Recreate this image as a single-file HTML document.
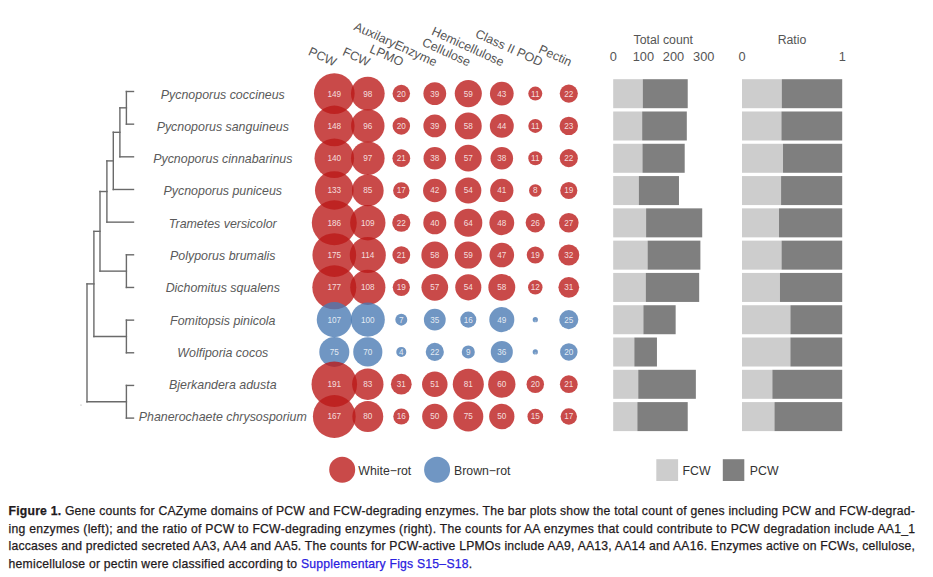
<!DOCTYPE html>
<html><head><meta charset="utf-8"><style>
html,body{margin:0;padding:0;background:#fff;width:933px;height:577px;overflow:hidden;}
svg{position:absolute;left:0;top:0;}
.cl{position:absolute;left:8.6px;width:906.5px;font-family:"Liberation Sans",sans-serif;font-size:12.2px;line-height:16px;color:#1f1a1c;text-align:justify;white-space:nowrap;-webkit-text-stroke:0.25px #1f1a1c;}
.lk{-webkit-text-stroke:0.25px #2a20e0;}
.cl b{font-weight:bold;}
.lk{color:#2a20e0;}
</style></head><body>
<svg width="933" height="577" viewBox="0 0 933 577">
<g stroke="#6a6a6a" stroke-width="1.4" stroke-linecap="square" fill="none">
<line x1="126.40" y1="91.50" x2="126.40" y2="124.16"/>
<line x1="126.4" y1="91.50" x2="133.5" y2="91.50"/>
<line x1="126.4" y1="124.16" x2="133.5" y2="124.16"/>
<line x1="119.90" y1="107.83" x2="119.90" y2="156.82"/>
<line x1="119.9" y1="107.83" x2="126.4" y2="107.83"/>
<line x1="119.9" y1="156.82" x2="133.5" y2="156.82"/>
<line x1="113.30" y1="132.32" x2="113.30" y2="189.48"/>
<line x1="113.3" y1="132.32" x2="119.9" y2="132.32"/>
<line x1="113.3" y1="189.48" x2="133.5" y2="189.48"/>
<line x1="106.90" y1="160.90" x2="106.90" y2="222.14"/>
<line x1="106.9" y1="160.90" x2="113.3" y2="160.90"/>
<line x1="106.9" y1="222.14" x2="133.5" y2="222.14"/>
<line x1="126.40" y1="254.80" x2="126.40" y2="287.46"/>
<line x1="126.4" y1="254.80" x2="133.5" y2="254.80"/>
<line x1="126.4" y1="287.46" x2="133.5" y2="287.46"/>
<line x1="100.00" y1="191.52" x2="100.00" y2="271.13"/>
<line x1="100.0" y1="191.52" x2="106.9" y2="191.52"/>
<line x1="100.0" y1="271.13" x2="126.4" y2="271.13"/>
<line x1="126.40" y1="320.12" x2="126.40" y2="352.78"/>
<line x1="126.4" y1="320.12" x2="133.5" y2="320.12"/>
<line x1="126.4" y1="352.78" x2="133.5" y2="352.78"/>
<line x1="93.90" y1="231.33" x2="93.90" y2="336.45"/>
<line x1="93.9" y1="231.33" x2="100.0" y2="231.33"/>
<line x1="93.9" y1="336.45" x2="126.4" y2="336.45"/>
<line x1="126.40" y1="385.44" x2="126.40" y2="418.10"/>
<line x1="126.4" y1="385.44" x2="133.5" y2="385.44"/>
<line x1="126.4" y1="418.10" x2="133.5" y2="418.10"/>
<line x1="87.00" y1="283.89" x2="87.00" y2="401.77"/>
<line x1="87.0" y1="283.89" x2="93.9" y2="283.89"/>
<line x1="87.0" y1="401.77" x2="126.4" y2="401.77"/>
</g>
<circle cx="81" cy="405" r="0.6" fill="#999"/>
<g font-family="Liberation Sans" font-style="italic" font-size="12.4" fill="#5a5a5a" text-anchor="middle">
<text x="222.8" y="98.50">Pycnoporus coccineus</text>
<text x="222.8" y="130.79">Pycnoporus sanguineus</text>
<text x="222.8" y="163.08">Pycnoporus cinnabarinus</text>
<text x="222.8" y="195.37">Pycnoporus puniceus</text>
<text x="222.8" y="227.66">Trametes versicolor</text>
<text x="222.8" y="259.95">Polyporus brumalis</text>
<text x="222.8" y="292.24">Dichomitus squalens</text>
<text x="222.8" y="324.53">Fomitopsis pinicola</text>
<text x="222.8" y="356.82">Wolfiporia cocos</text>
<text x="222.8" y="389.11">Bjerkandera adusta</text>
<text x="222.8" y="421.40">Phanerochaete chrysosporium</text>
</g>
<g font-family="Liberation Sans" font-size="12.5" fill="#555" text-anchor="end">
<text transform="translate(334.10,66.6) rotate(24.5)">PCW</text>
<text transform="translate(367.60,66.6) rotate(24.5)">FCW</text>
<text transform="translate(401.10,66.6) rotate(24.5)">LPMO</text>
<text transform="translate(434.60,66.6) rotate(24.5)">AuxilaryEnzyme</text>
<text transform="translate(468.10,66.6) rotate(24.5)">Cellulose</text>
<text transform="translate(501.60,66.6) rotate(24.5)">Hemicellulose</text>
<text transform="translate(540.30,66.6) rotate(24.5)">Class II POD</text>
<text transform="translate(569.40,66.6) rotate(24.5)">Pectin</text>
</g>
<circle cx="334.30" cy="93.60" r="20.34" fill="rgba(186,26,24,0.79)"/>
<circle cx="367.80" cy="93.60" r="16.88" fill="rgba(186,26,24,0.79)"/>
<circle cx="401.30" cy="93.60" r="8.74" fill="rgba(186,26,24,0.79)"/>
<circle cx="434.80" cy="93.60" r="11.40" fill="rgba(186,26,24,0.79)"/>
<circle cx="468.30" cy="93.60" r="13.55" fill="rgba(186,26,24,0.79)"/>
<circle cx="501.80" cy="93.60" r="11.87" fill="rgba(186,26,24,0.79)"/>
<circle cx="535.30" cy="93.60" r="7.00" fill="rgba(186,26,24,0.79)"/>
<circle cx="568.80" cy="93.60" r="9.07" fill="rgba(186,26,24,0.79)"/>
<text x="334.30" y="96.50" font-family="Liberation Sans" font-size="8.2" fill="rgba(255,255,255,0.82)" text-anchor="middle">149</text>
<text x="367.80" y="96.50" font-family="Liberation Sans" font-size="8.2" fill="rgba(255,255,255,0.82)" text-anchor="middle">98</text>
<text x="401.30" y="96.50" font-family="Liberation Sans" font-size="8.2" fill="rgba(255,255,255,0.82)" text-anchor="middle">20</text>
<text x="434.80" y="96.50" font-family="Liberation Sans" font-size="8.2" fill="rgba(255,255,255,0.82)" text-anchor="middle">39</text>
<text x="468.30" y="96.50" font-family="Liberation Sans" font-size="8.2" fill="rgba(255,255,255,0.82)" text-anchor="middle">59</text>
<text x="501.80" y="96.50" font-family="Liberation Sans" font-size="8.2" fill="rgba(255,255,255,0.82)" text-anchor="middle">43</text>
<text x="535.30" y="96.50" font-family="Liberation Sans" font-size="8.2" fill="rgba(255,255,255,0.82)" text-anchor="middle">11</text>
<text x="568.80" y="96.50" font-family="Liberation Sans" font-size="8.2" fill="rgba(255,255,255,0.82)" text-anchor="middle">22</text>
<circle cx="334.30" cy="125.89" r="20.28" fill="rgba(186,26,24,0.79)"/>
<circle cx="367.80" cy="125.89" r="16.73" fill="rgba(186,26,24,0.79)"/>
<circle cx="401.30" cy="125.89" r="8.74" fill="rgba(186,26,24,0.79)"/>
<circle cx="434.80" cy="125.89" r="11.40" fill="rgba(186,26,24,0.79)"/>
<circle cx="468.30" cy="125.89" r="13.45" fill="rgba(186,26,24,0.79)"/>
<circle cx="501.80" cy="125.89" r="11.98" fill="rgba(186,26,24,0.79)"/>
<circle cx="535.30" cy="125.89" r="7.00" fill="rgba(186,26,24,0.79)"/>
<circle cx="568.80" cy="125.89" r="9.22" fill="rgba(186,26,24,0.79)"/>
<text x="334.30" y="128.79" font-family="Liberation Sans" font-size="8.2" fill="rgba(255,255,255,0.82)" text-anchor="middle">148</text>
<text x="367.80" y="128.79" font-family="Liberation Sans" font-size="8.2" fill="rgba(255,255,255,0.82)" text-anchor="middle">96</text>
<text x="401.30" y="128.79" font-family="Liberation Sans" font-size="8.2" fill="rgba(255,255,255,0.82)" text-anchor="middle">20</text>
<text x="434.80" y="128.79" font-family="Liberation Sans" font-size="8.2" fill="rgba(255,255,255,0.82)" text-anchor="middle">39</text>
<text x="468.30" y="128.79" font-family="Liberation Sans" font-size="8.2" fill="rgba(255,255,255,0.82)" text-anchor="middle">58</text>
<text x="501.80" y="128.79" font-family="Liberation Sans" font-size="8.2" fill="rgba(255,255,255,0.82)" text-anchor="middle">44</text>
<text x="535.30" y="128.79" font-family="Liberation Sans" font-size="8.2" fill="rgba(255,255,255,0.82)" text-anchor="middle">11</text>
<text x="568.80" y="128.79" font-family="Liberation Sans" font-size="8.2" fill="rgba(255,255,255,0.82)" text-anchor="middle">23</text>
<circle cx="334.30" cy="158.18" r="19.78" fill="rgba(186,26,24,0.79)"/>
<circle cx="367.80" cy="158.18" r="16.80" fill="rgba(186,26,24,0.79)"/>
<circle cx="401.30" cy="158.18" r="8.90" fill="rgba(186,26,24,0.79)"/>
<circle cx="434.80" cy="158.18" r="11.28" fill="rgba(186,26,24,0.79)"/>
<circle cx="468.30" cy="158.18" r="13.35" fill="rgba(186,26,24,0.79)"/>
<circle cx="501.80" cy="158.18" r="11.28" fill="rgba(186,26,24,0.79)"/>
<circle cx="535.30" cy="158.18" r="7.00" fill="rgba(186,26,24,0.79)"/>
<circle cx="568.80" cy="158.18" r="9.07" fill="rgba(186,26,24,0.79)"/>
<text x="334.30" y="161.08" font-family="Liberation Sans" font-size="8.2" fill="rgba(255,255,255,0.82)" text-anchor="middle">140</text>
<text x="367.80" y="161.08" font-family="Liberation Sans" font-size="8.2" fill="rgba(255,255,255,0.82)" text-anchor="middle">97</text>
<text x="401.30" y="161.08" font-family="Liberation Sans" font-size="8.2" fill="rgba(255,255,255,0.82)" text-anchor="middle">21</text>
<text x="434.80" y="161.08" font-family="Liberation Sans" font-size="8.2" fill="rgba(255,255,255,0.82)" text-anchor="middle">38</text>
<text x="468.30" y="161.08" font-family="Liberation Sans" font-size="8.2" fill="rgba(255,255,255,0.82)" text-anchor="middle">57</text>
<text x="501.80" y="161.08" font-family="Liberation Sans" font-size="8.2" fill="rgba(255,255,255,0.82)" text-anchor="middle">38</text>
<text x="535.30" y="161.08" font-family="Liberation Sans" font-size="8.2" fill="rgba(255,255,255,0.82)" text-anchor="middle">11</text>
<text x="568.80" y="161.08" font-family="Liberation Sans" font-size="8.2" fill="rgba(255,255,255,0.82)" text-anchor="middle">22</text>
<circle cx="334.30" cy="190.47" r="19.33" fill="rgba(186,26,24,0.79)"/>
<circle cx="367.80" cy="190.47" r="15.86" fill="rgba(186,26,24,0.79)"/>
<circle cx="401.30" cy="190.47" r="8.21" fill="rgba(186,26,24,0.79)"/>
<circle cx="434.80" cy="190.47" r="11.75" fill="rgba(186,26,24,0.79)"/>
<circle cx="468.30" cy="190.47" r="13.05" fill="rgba(186,26,24,0.79)"/>
<circle cx="501.80" cy="190.47" r="11.63" fill="rgba(186,26,24,0.79)"/>
<circle cx="535.30" cy="190.47" r="6.27" fill="rgba(186,26,24,0.79)"/>
<circle cx="568.80" cy="190.47" r="8.57" fill="rgba(186,26,24,0.79)"/>
<text x="334.30" y="193.37" font-family="Liberation Sans" font-size="8.2" fill="rgba(255,255,255,0.82)" text-anchor="middle">133</text>
<text x="367.80" y="193.37" font-family="Liberation Sans" font-size="8.2" fill="rgba(255,255,255,0.82)" text-anchor="middle">85</text>
<text x="401.30" y="193.37" font-family="Liberation Sans" font-size="8.2" fill="rgba(255,255,255,0.82)" text-anchor="middle">17</text>
<text x="434.80" y="193.37" font-family="Liberation Sans" font-size="8.2" fill="rgba(255,255,255,0.82)" text-anchor="middle">42</text>
<text x="468.30" y="193.37" font-family="Liberation Sans" font-size="8.2" fill="rgba(255,255,255,0.82)" text-anchor="middle">54</text>
<text x="501.80" y="193.37" font-family="Liberation Sans" font-size="8.2" fill="rgba(255,255,255,0.82)" text-anchor="middle">41</text>
<text x="535.30" y="193.37" font-family="Liberation Sans" font-size="8.2" fill="rgba(255,255,255,0.82)" text-anchor="middle">8</text>
<text x="568.80" y="193.37" font-family="Liberation Sans" font-size="8.2" fill="rgba(255,255,255,0.82)" text-anchor="middle">19</text>
<circle cx="334.30" cy="222.76" r="22.49" fill="rgba(186,26,24,0.79)"/>
<circle cx="367.80" cy="222.76" r="17.69" fill="rgba(186,26,24,0.79)"/>
<circle cx="401.30" cy="222.76" r="9.07" fill="rgba(186,26,24,0.79)"/>
<circle cx="434.80" cy="222.76" r="11.52" fill="rgba(186,26,24,0.79)"/>
<circle cx="468.30" cy="222.76" r="14.03" fill="rgba(186,26,24,0.79)"/>
<circle cx="501.80" cy="222.76" r="12.42" fill="rgba(186,26,24,0.79)"/>
<circle cx="535.30" cy="222.76" r="9.68" fill="rgba(186,26,24,0.79)"/>
<circle cx="568.80" cy="222.76" r="9.82" fill="rgba(186,26,24,0.79)"/>
<text x="334.30" y="225.66" font-family="Liberation Sans" font-size="8.2" fill="rgba(255,255,255,0.82)" text-anchor="middle">186</text>
<text x="367.80" y="225.66" font-family="Liberation Sans" font-size="8.2" fill="rgba(255,255,255,0.82)" text-anchor="middle">109</text>
<text x="401.30" y="225.66" font-family="Liberation Sans" font-size="8.2" fill="rgba(255,255,255,0.82)" text-anchor="middle">22</text>
<text x="434.80" y="225.66" font-family="Liberation Sans" font-size="8.2" fill="rgba(255,255,255,0.82)" text-anchor="middle">40</text>
<text x="468.30" y="225.66" font-family="Liberation Sans" font-size="8.2" fill="rgba(255,255,255,0.82)" text-anchor="middle">64</text>
<text x="501.80" y="225.66" font-family="Liberation Sans" font-size="8.2" fill="rgba(255,255,255,0.82)" text-anchor="middle">48</text>
<text x="535.30" y="225.66" font-family="Liberation Sans" font-size="8.2" fill="rgba(255,255,255,0.82)" text-anchor="middle">26</text>
<text x="568.80" y="225.66" font-family="Liberation Sans" font-size="8.2" fill="rgba(255,255,255,0.82)" text-anchor="middle">27</text>
<circle cx="334.30" cy="255.05" r="21.87" fill="rgba(186,26,24,0.79)"/>
<circle cx="367.80" cy="255.05" r="18.05" fill="rgba(186,26,24,0.79)"/>
<circle cx="401.30" cy="255.05" r="8.90" fill="rgba(186,26,24,0.79)"/>
<circle cx="434.80" cy="255.05" r="13.45" fill="rgba(186,26,24,0.79)"/>
<circle cx="468.30" cy="255.05" r="13.55" fill="rgba(186,26,24,0.79)"/>
<circle cx="501.80" cy="255.05" r="12.31" fill="rgba(186,26,24,0.79)"/>
<circle cx="535.30" cy="255.05" r="8.57" fill="rgba(186,26,24,0.79)"/>
<circle cx="568.80" cy="255.05" r="10.52" fill="rgba(186,26,24,0.79)"/>
<text x="334.30" y="257.95" font-family="Liberation Sans" font-size="8.2" fill="rgba(255,255,255,0.82)" text-anchor="middle">175</text>
<text x="367.80" y="257.95" font-family="Liberation Sans" font-size="8.2" fill="rgba(255,255,255,0.82)" text-anchor="middle">114</text>
<text x="401.30" y="257.95" font-family="Liberation Sans" font-size="8.2" fill="rgba(255,255,255,0.82)" text-anchor="middle">21</text>
<text x="434.80" y="257.95" font-family="Liberation Sans" font-size="8.2" fill="rgba(255,255,255,0.82)" text-anchor="middle">58</text>
<text x="468.30" y="257.95" font-family="Liberation Sans" font-size="8.2" fill="rgba(255,255,255,0.82)" text-anchor="middle">59</text>
<text x="501.80" y="257.95" font-family="Liberation Sans" font-size="8.2" fill="rgba(255,255,255,0.82)" text-anchor="middle">47</text>
<text x="535.30" y="257.95" font-family="Liberation Sans" font-size="8.2" fill="rgba(255,255,255,0.82)" text-anchor="middle">19</text>
<text x="568.80" y="257.95" font-family="Liberation Sans" font-size="8.2" fill="rgba(255,255,255,0.82)" text-anchor="middle">32</text>
<circle cx="334.30" cy="287.34" r="21.99" fill="rgba(186,26,24,0.79)"/>
<circle cx="367.80" cy="287.34" r="17.62" fill="rgba(186,26,24,0.79)"/>
<circle cx="401.30" cy="287.34" r="8.57" fill="rgba(186,26,24,0.79)"/>
<circle cx="434.80" cy="287.34" r="13.35" fill="rgba(186,26,24,0.79)"/>
<circle cx="468.30" cy="287.34" r="13.05" fill="rgba(186,26,24,0.79)"/>
<circle cx="501.80" cy="287.34" r="13.45" fill="rgba(186,26,24,0.79)"/>
<circle cx="535.30" cy="287.34" r="7.23" fill="rgba(186,26,24,0.79)"/>
<circle cx="568.80" cy="287.34" r="10.38" fill="rgba(186,26,24,0.79)"/>
<text x="334.30" y="290.24" font-family="Liberation Sans" font-size="8.2" fill="rgba(255,255,255,0.82)" text-anchor="middle">177</text>
<text x="367.80" y="290.24" font-family="Liberation Sans" font-size="8.2" fill="rgba(255,255,255,0.82)" text-anchor="middle">108</text>
<text x="401.30" y="290.24" font-family="Liberation Sans" font-size="8.2" fill="rgba(255,255,255,0.82)" text-anchor="middle">19</text>
<text x="434.80" y="290.24" font-family="Liberation Sans" font-size="8.2" fill="rgba(255,255,255,0.82)" text-anchor="middle">57</text>
<text x="468.30" y="290.24" font-family="Liberation Sans" font-size="8.2" fill="rgba(255,255,255,0.82)" text-anchor="middle">54</text>
<text x="501.80" y="290.24" font-family="Liberation Sans" font-size="8.2" fill="rgba(255,255,255,0.82)" text-anchor="middle">58</text>
<text x="535.30" y="290.24" font-family="Liberation Sans" font-size="8.2" fill="rgba(255,255,255,0.82)" text-anchor="middle">12</text>
<text x="568.80" y="290.24" font-family="Liberation Sans" font-size="8.2" fill="rgba(255,255,255,0.82)" text-anchor="middle">31</text>
<circle cx="334.30" cy="319.63" r="17.55" fill="rgba(74,122,179,0.79)"/>
<circle cx="367.80" cy="319.63" r="17.03" fill="rgba(74,122,179,0.79)"/>
<circle cx="401.30" cy="319.63" r="6.00" fill="rgba(74,122,179,0.79)"/>
<circle cx="434.80" cy="319.63" r="10.90" fill="rgba(74,122,179,0.79)"/>
<circle cx="468.30" cy="319.63" r="8.03" fill="rgba(74,122,179,0.79)"/>
<circle cx="501.80" cy="319.63" r="12.53" fill="rgba(74,122,179,0.79)"/>
<circle cx="535.30" cy="319.63" r="2.60" fill="rgba(74,122,179,0.79)"/>
<circle cx="568.80" cy="319.63" r="9.53" fill="rgba(74,122,179,0.79)"/>
<text x="334.30" y="322.53" font-family="Liberation Sans" font-size="8.2" fill="rgba(255,255,255,0.82)" text-anchor="middle">107</text>
<text x="367.80" y="322.53" font-family="Liberation Sans" font-size="8.2" fill="rgba(255,255,255,0.82)" text-anchor="middle">100</text>
<text x="401.30" y="322.53" font-family="Liberation Sans" font-size="8.2" fill="rgba(255,255,255,0.82)" text-anchor="middle">7</text>
<text x="434.80" y="322.53" font-family="Liberation Sans" font-size="8.2" fill="rgba(255,255,255,0.82)" text-anchor="middle">35</text>
<text x="468.30" y="322.53" font-family="Liberation Sans" font-size="8.2" fill="rgba(255,255,255,0.82)" text-anchor="middle">16</text>
<text x="501.80" y="322.53" font-family="Liberation Sans" font-size="8.2" fill="rgba(255,255,255,0.82)" text-anchor="middle">49</text>
<text x="535.30" y="322.53" font-family="Liberation Sans" font-size="3" fill="rgba(255,255,255,0.82)" text-anchor="middle">0</text>
<text x="568.80" y="322.53" font-family="Liberation Sans" font-size="8.2" fill="rgba(255,255,255,0.82)" text-anchor="middle">25</text>
<circle cx="334.30" cy="351.92" r="15.02" fill="rgba(74,122,179,0.79)"/>
<circle cx="367.80" cy="351.92" r="14.58" fill="rgba(74,122,179,0.79)"/>
<circle cx="401.30" cy="351.92" r="5.03" fill="rgba(74,122,179,0.79)"/>
<circle cx="434.80" cy="351.92" r="9.07" fill="rgba(74,122,179,0.79)"/>
<circle cx="468.30" cy="351.92" r="6.53" fill="rgba(74,122,179,0.79)"/>
<circle cx="501.80" cy="351.92" r="11.03" fill="rgba(74,122,179,0.79)"/>
<circle cx="535.30" cy="351.92" r="2.60" fill="rgba(74,122,179,0.79)"/>
<circle cx="568.80" cy="351.92" r="8.74" fill="rgba(74,122,179,0.79)"/>
<text x="334.30" y="354.82" font-family="Liberation Sans" font-size="8.2" fill="rgba(255,255,255,0.82)" text-anchor="middle">75</text>
<text x="367.80" y="354.82" font-family="Liberation Sans" font-size="8.2" fill="rgba(255,255,255,0.82)" text-anchor="middle">70</text>
<text x="401.30" y="354.82" font-family="Liberation Sans" font-size="8.2" fill="rgba(255,255,255,0.82)" text-anchor="middle">4</text>
<text x="434.80" y="354.82" font-family="Liberation Sans" font-size="8.2" fill="rgba(255,255,255,0.82)" text-anchor="middle">22</text>
<text x="468.30" y="354.82" font-family="Liberation Sans" font-size="8.2" fill="rgba(255,255,255,0.82)" text-anchor="middle">9</text>
<text x="501.80" y="354.82" font-family="Liberation Sans" font-size="8.2" fill="rgba(255,255,255,0.82)" text-anchor="middle">36</text>
<text x="535.30" y="354.82" font-family="Liberation Sans" font-size="3" fill="rgba(255,255,255,0.82)" text-anchor="middle">0</text>
<text x="568.80" y="354.82" font-family="Liberation Sans" font-size="8.2" fill="rgba(255,255,255,0.82)" text-anchor="middle">20</text>
<circle cx="334.30" cy="384.21" r="22.76" fill="rgba(186,26,24,0.79)"/>
<circle cx="367.80" cy="384.21" r="15.70" fill="rgba(186,26,24,0.79)"/>
<circle cx="401.30" cy="384.21" r="10.38" fill="rgba(186,26,24,0.79)"/>
<circle cx="434.80" cy="384.21" r="12.74" fill="rgba(186,26,24,0.79)"/>
<circle cx="468.30" cy="384.21" r="15.53" fill="rgba(186,26,24,0.79)"/>
<circle cx="501.80" cy="384.21" r="13.65" fill="rgba(186,26,24,0.79)"/>
<circle cx="535.30" cy="384.21" r="8.74" fill="rgba(186,26,24,0.79)"/>
<circle cx="568.80" cy="384.21" r="8.90" fill="rgba(186,26,24,0.79)"/>
<text x="334.30" y="387.11" font-family="Liberation Sans" font-size="8.2" fill="rgba(255,255,255,0.82)" text-anchor="middle">191</text>
<text x="367.80" y="387.11" font-family="Liberation Sans" font-size="8.2" fill="rgba(255,255,255,0.82)" text-anchor="middle">83</text>
<text x="401.30" y="387.11" font-family="Liberation Sans" font-size="8.2" fill="rgba(255,255,255,0.82)" text-anchor="middle">31</text>
<text x="434.80" y="387.11" font-family="Liberation Sans" font-size="8.2" fill="rgba(255,255,255,0.82)" text-anchor="middle">51</text>
<text x="468.30" y="387.11" font-family="Liberation Sans" font-size="8.2" fill="rgba(255,255,255,0.82)" text-anchor="middle">81</text>
<text x="501.80" y="387.11" font-family="Liberation Sans" font-size="8.2" fill="rgba(255,255,255,0.82)" text-anchor="middle">60</text>
<text x="535.30" y="387.11" font-family="Liberation Sans" font-size="8.2" fill="rgba(255,255,255,0.82)" text-anchor="middle">20</text>
<text x="568.80" y="387.11" font-family="Liberation Sans" font-size="8.2" fill="rgba(255,255,255,0.82)" text-anchor="middle">21</text>
<circle cx="334.30" cy="416.50" r="21.41" fill="rgba(186,26,24,0.79)"/>
<circle cx="367.80" cy="416.50" r="15.45" fill="rgba(186,26,24,0.79)"/>
<circle cx="401.30" cy="416.50" r="8.03" fill="rgba(186,26,24,0.79)"/>
<circle cx="434.80" cy="416.50" r="12.64" fill="rgba(186,26,24,0.79)"/>
<circle cx="468.30" cy="416.50" r="15.02" fill="rgba(186,26,24,0.79)"/>
<circle cx="501.80" cy="416.50" r="12.64" fill="rgba(186,26,24,0.79)"/>
<circle cx="535.30" cy="416.50" r="7.84" fill="rgba(186,26,24,0.79)"/>
<circle cx="568.80" cy="416.50" r="8.21" fill="rgba(186,26,24,0.79)"/>
<text x="334.30" y="419.40" font-family="Liberation Sans" font-size="8.2" fill="rgba(255,255,255,0.82)" text-anchor="middle">167</text>
<text x="367.80" y="419.40" font-family="Liberation Sans" font-size="8.2" fill="rgba(255,255,255,0.82)" text-anchor="middle">80</text>
<text x="401.30" y="419.40" font-family="Liberation Sans" font-size="8.2" fill="rgba(255,255,255,0.82)" text-anchor="middle">16</text>
<text x="434.80" y="419.40" font-family="Liberation Sans" font-size="8.2" fill="rgba(255,255,255,0.82)" text-anchor="middle">50</text>
<text x="468.30" y="419.40" font-family="Liberation Sans" font-size="8.2" fill="rgba(255,255,255,0.82)" text-anchor="middle">75</text>
<text x="501.80" y="419.40" font-family="Liberation Sans" font-size="8.2" fill="rgba(255,255,255,0.82)" text-anchor="middle">50</text>
<text x="535.30" y="419.40" font-family="Liberation Sans" font-size="8.2" fill="rgba(255,255,255,0.82)" text-anchor="middle">15</text>
<text x="568.80" y="419.40" font-family="Liberation Sans" font-size="8.2" fill="rgba(255,255,255,0.82)" text-anchor="middle">17</text>
<g font-family="Liberation Sans" font-size="12.3" fill="#555" text-anchor="middle">
<text x="663.3" y="44.3">Total count</text>
<text x="613.20" y="61" font-size="12.8">0</text>
<text x="643.37" y="61" font-size="12.8">100</text>
<text x="673.54" y="61" font-size="12.8">200</text>
<text x="703.71" y="61" font-size="12.8">300</text>
<text x="792" y="44.3">Ratio</text>
<text x="742.00" y="61" font-size="12.8">0</text><text x="842.20" y="61" font-size="12.8">1</text>
</g>
<rect x="613.2" y="79.20" width="29.57" height="29.0" fill="#cdcdcd"/>
<rect x="642.77" y="79.20" width="44.95" height="29.0" fill="#7f7f7f"/>
<rect x="742.0" y="79.20" width="39.76" height="29.0" fill="#cdcdcd"/>
<rect x="781.76" y="79.20" width="60.44" height="29.0" fill="#7f7f7f"/>
<rect x="613.2" y="111.49" width="28.96" height="29.0" fill="#cdcdcd"/>
<rect x="642.16" y="111.49" width="44.65" height="29.0" fill="#7f7f7f"/>
<rect x="742.0" y="111.49" width="39.42" height="29.0" fill="#cdcdcd"/>
<rect x="781.42" y="111.49" width="60.78" height="29.0" fill="#7f7f7f"/>
<rect x="613.2" y="143.78" width="29.26" height="29.0" fill="#cdcdcd"/>
<rect x="642.46" y="143.78" width="42.24" height="29.0" fill="#7f7f7f"/>
<rect x="742.0" y="143.78" width="41.01" height="29.0" fill="#cdcdcd"/>
<rect x="783.01" y="143.78" width="59.19" height="29.0" fill="#7f7f7f"/>
<rect x="613.2" y="176.07" width="25.64" height="29.0" fill="#cdcdcd"/>
<rect x="638.84" y="176.07" width="40.13" height="29.0" fill="#7f7f7f"/>
<rect x="742.0" y="176.07" width="39.07" height="29.0" fill="#cdcdcd"/>
<rect x="781.07" y="176.07" width="61.13" height="29.0" fill="#7f7f7f"/>
<rect x="613.2" y="208.36" width="32.89" height="29.0" fill="#cdcdcd"/>
<rect x="646.09" y="208.36" width="56.12" height="29.0" fill="#7f7f7f"/>
<rect x="742.0" y="208.36" width="37.02" height="29.0" fill="#cdcdcd"/>
<rect x="779.02" y="208.36" width="63.18" height="29.0" fill="#7f7f7f"/>
<rect x="613.2" y="240.65" width="34.39" height="29.0" fill="#cdcdcd"/>
<rect x="647.59" y="240.65" width="52.80" height="29.0" fill="#7f7f7f"/>
<rect x="742.0" y="240.65" width="39.53" height="29.0" fill="#cdcdcd"/>
<rect x="781.53" y="240.65" width="60.67" height="29.0" fill="#7f7f7f"/>
<rect x="613.2" y="272.94" width="32.58" height="29.0" fill="#cdcdcd"/>
<rect x="645.78" y="272.94" width="53.40" height="29.0" fill="#7f7f7f"/>
<rect x="742.0" y="272.94" width="37.97" height="29.0" fill="#cdcdcd"/>
<rect x="779.97" y="272.94" width="62.23" height="29.0" fill="#7f7f7f"/>
<rect x="613.2" y="305.23" width="30.17" height="29.0" fill="#cdcdcd"/>
<rect x="643.37" y="305.23" width="32.28" height="29.0" fill="#7f7f7f"/>
<rect x="742.0" y="305.23" width="48.41" height="29.0" fill="#cdcdcd"/>
<rect x="790.41" y="305.23" width="51.79" height="29.0" fill="#7f7f7f"/>
<rect x="613.2" y="337.52" width="21.12" height="29.0" fill="#cdcdcd"/>
<rect x="634.32" y="337.52" width="22.63" height="29.0" fill="#7f7f7f"/>
<rect x="742.0" y="337.52" width="48.37" height="29.0" fill="#cdcdcd"/>
<rect x="790.37" y="337.52" width="51.83" height="29.0" fill="#7f7f7f"/>
<rect x="613.2" y="369.81" width="25.04" height="29.0" fill="#cdcdcd"/>
<rect x="638.24" y="369.81" width="57.62" height="29.0" fill="#7f7f7f"/>
<rect x="742.0" y="369.81" width="30.35" height="29.0" fill="#cdcdcd"/>
<rect x="772.35" y="369.81" width="69.85" height="29.0" fill="#7f7f7f"/>
<rect x="613.2" y="402.10" width="24.14" height="29.0" fill="#cdcdcd"/>
<rect x="637.34" y="402.10" width="50.38" height="29.0" fill="#7f7f7f"/>
<rect x="742.0" y="402.10" width="32.45" height="29.0" fill="#cdcdcd"/>
<rect x="774.45" y="402.10" width="67.75" height="29.0" fill="#7f7f7f"/>
<circle cx="342.2" cy="469.8" r="13" fill="rgba(186,26,24,0.79)"/>
<circle cx="437.1" cy="469.8" r="13" fill="rgba(74,122,179,0.79)"/>
<g font-family="Liberation Sans" font-size="12.3" fill="#333">
<text x="358.3" y="474.8">White−rot</text>
<text x="454" y="474.8">Brown−rot</text>
<text x="682.5" y="474.8">FCW</text>
<text x="749.8" y="474.8">PCW</text>
</g>
<rect x="656.3" y="459.2" width="21.8" height="21.8" fill="#cdcdcd"/>
<rect x="722.8" y="459.2" width="21.5" height="21.8" fill="#7f7f7f"/>
</svg>
<div class="cl" style="top:503.10px;text-align-last:justify;letter-spacing:0.205px"><b>Figure 1.</b> Gene counts for CAZyme domains of PCW and FCW-degrading enzymes. The bar plots show the total count of genes including PCW and FCW-degrad-</div><div class="cl" style="top:520.70px;text-align-last:justify;letter-spacing:0.245px">ing enzymes (left); and the ratio of PCW to FCW-degrading enzymes (right). The counts for AA enzymes that could contribute to PCW degradation include AA1_1</div><div class="cl" style="top:538.30px;text-align-last:justify;letter-spacing:0.205px">laccases and predicted secreted AA3, AA4 and AA5. The counts for PCW-active LPMOs include AA9, AA13, AA14 and AA16. Enzymes active on FCWs, cellulose,</div><div class="cl" style="top:555.90px;text-align-last:left;letter-spacing:0.225px">hemicellulose or pectin were classified according to <span class="lk">Supplementary Figs S15–S18</span>.</div>
</body></html>
